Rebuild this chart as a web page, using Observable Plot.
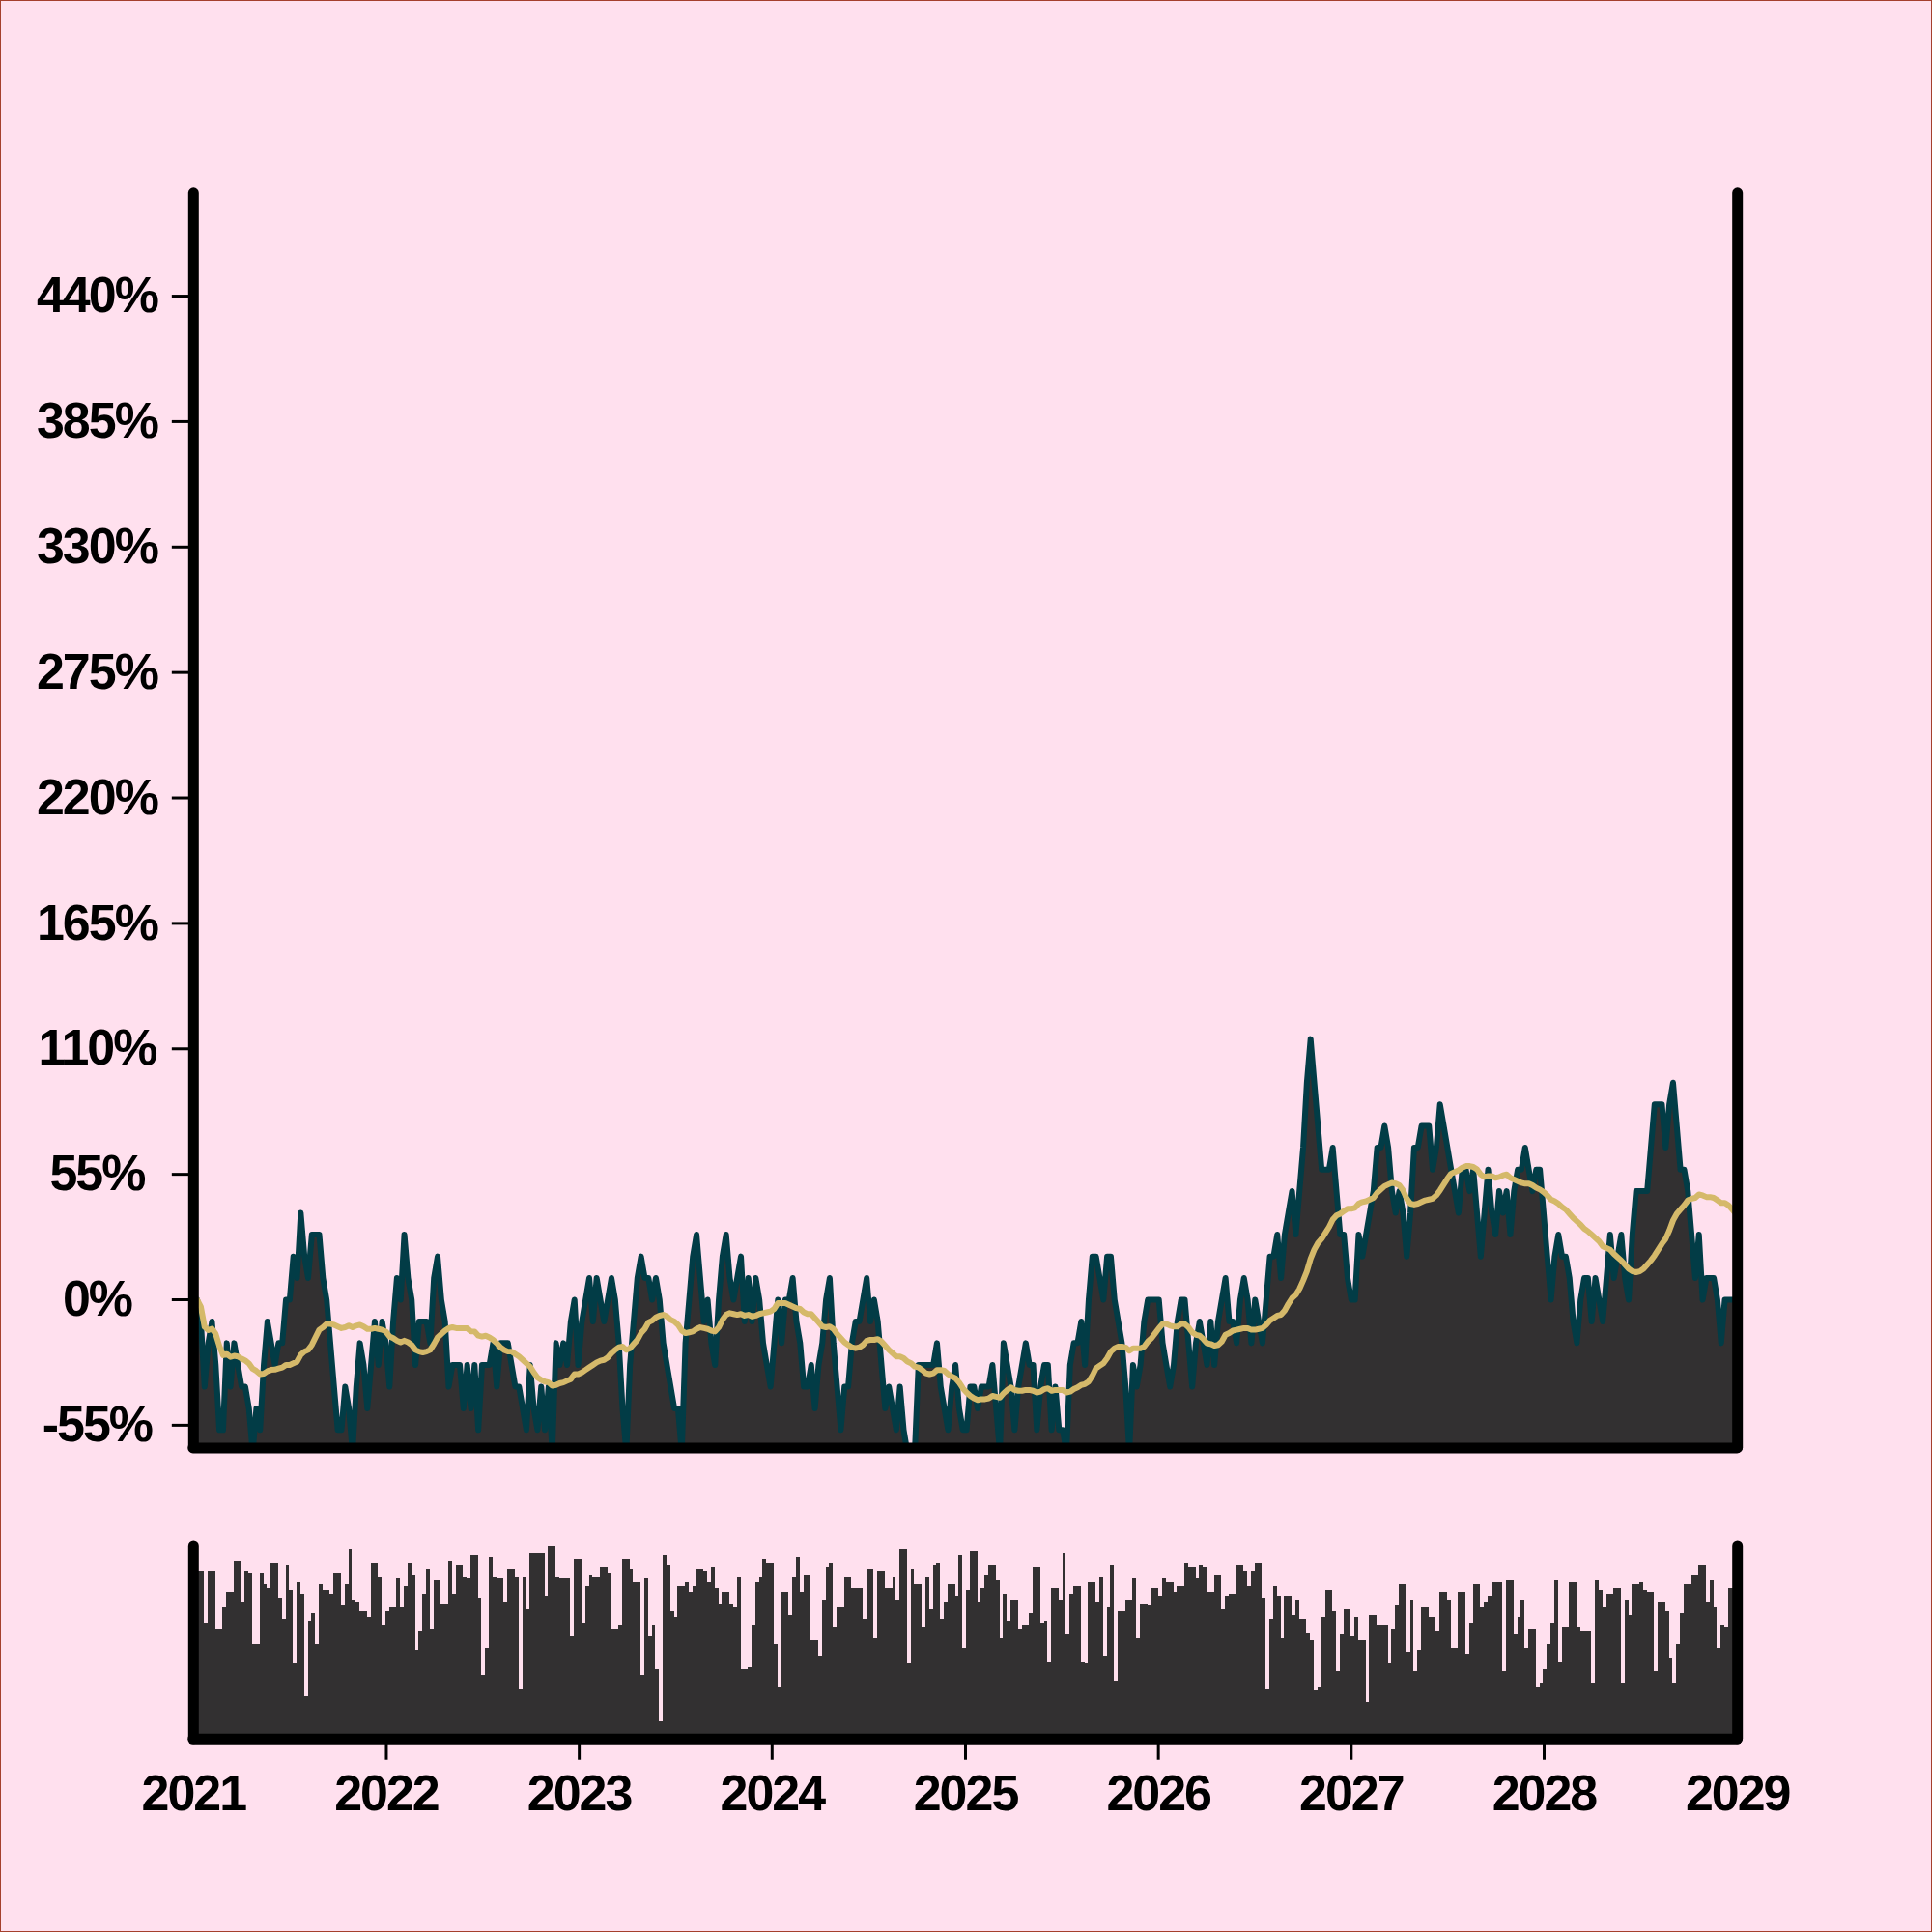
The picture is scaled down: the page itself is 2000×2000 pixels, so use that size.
<!DOCTYPE html>
<html><head><meta charset="utf-8">
<script src="https://cdn.jsdelivr.net/npm/d3@7"></script>
<script src="https://cdn.jsdelivr.net/npm/@observablehq/plot@0.6"></script>
<style>
html, body { margin:0; padding:0; background:#ffe0ee; }
#chart { width:2000px; height:2000px; box-sizing:border-box; border:1px solid #a5402d; background:#ffe0ee; position:relative; overflow:hidden; }
#chart svg { display:block; position:absolute; left:-1px; }
</style></head>
<body><div id="chart"></div>
<script>
// Weekly % change, one array per year
const returns2021 = [0, 0, -9.5, -38.1, -19, -9.5, -28.6, -57.1, -57.1, -19, -38.1, -19, -28.6, -38.1, -38.1, -47.6, -66.7, -47.6, -57.1, -28.6, -9.5, -19, -28.6, -19, -19, 0, 0, 19, 9.5, 38.1, 19, 9.5, 28.6, 28.6, 28.6, 9.5, 0, -19, -38.1, -57.1, -57.1, -38.1, -47.6, -66.7, -38.1, -19, -28.6, -47.6, -28.6, -9.5, -28.6, -9.5, -19];
const returns2022 = [-38.1, -9.5, 9.5, 0, 28.6, 9.5, 0, -28.6, -9.5, -9.5, -9.5, -19, 9.5, 19, 0, -9.5, -38.1, -28.6, -28.6, -28.6, -47.6, -28.6, -47.6, -28.6, -57.1, -28.6, -28.6, -28.6, -19, -38.1, -19, -19, -19, -28.6, -38.1, -38.1, -47.6, -57.1, -28.6, -47.6, -57.1, -38.1, -57.1, -38.1, -66.7, -19, -28.6, -19, -28.6, -9.5, 0, -28.6];
const returns2023 = [-9.5, 0, 9.5, -9.5, 9.5, 0, -9.5, 0, 9.5, 0, -19, -47.6, -66.7, -28.6, -9.5, 9.5, 19, 9.5, 9.5, 0, 9.5, 0, -19, -28.6, -38.1, -47.6, -47.6, -66.7, -19, 0, 19, 28.6, 9.5, -9.5, 0, -19, -28.6, 0, 19, 28.6, 9.5, 0, 9.5, 19, -9.5, 9.5, -9.5, 9.5, 0, -19, -28.6, -38.1];
const returns2024 = [-19, 0, -19, 0, 0, 9.5, -9.5, -19, -38.1, -38.1, -28.6, -47.6, -28.6, -19, 0, 9.5, -19, -38.1, -57.1, -38.1, -38.1, -19, -9.5, -9.5, 0, 9.5, -9.5, 0, -9.5, -28.6, -47.6, -38.1, -47.6, -57.1, -38.1, -57.1, -66.7, -66.7, -66.7, -28.6, -28.6, -28.6, -28.6, -28.6, -19, -38.1, -47.6, -57.1, -38.1, -28.6, -47.6, -57.1];
const returns2025 = [-57.1, -38.1, -38.1, -47.6, -38.1, -38.1, -38.1, -28.6, -47.6, -66.7, -19, -28.6, -38.1, -57.1, -38.1, -28.6, -19, -28.6, -28.6, -57.1, -38.1, -28.6, -28.6, -57.1, -38.1, -57.1, -57.1, -66.7, -28.6, -19, -19, -9.5, -28.6, 0, 19, 19, 9.5, 0, 19, 19, 0, -9.5, -19, -38.1, -66.7, -28.6, -38.1, -28.6, -9.5, 0, 0, 0];
const returns2026 = [0, -19, -28.6, -38.1, -28.6, -9.5, 0, 0, -19, -38.1, -19, -9.5, -19, -28.6, -9.5, -28.6, -9.5, 0, 9.5, -9.5, -9.5, -19, 0, 9.5, 0, -19, 0, -9.5, -19, 0, 19, 19, 28.6, 9.5, 28.6, 38.1, 47.6, 28.6, 47.6, 66.7, 95.2, 114.3, 95.2, 76.2, 57.1, 57.1, 57.1, 66.7, 47.6, 28.6, 28.6, 9.5];
const returns2027 = [0, 0, 28.6, 19, 28.6, 38.1, 47.6, 66.7, 66.7, 76.2, 66.7, 47.6, 38.1, 47.6, 38.1, 19, 38.1, 66.7, 66.7, 76.2, 76.2, 76.2, 57.1, 66.7, 85.7, 76.2, 66.7, 57.1, 47.6, 38.1, 57.1, 57.1, 47.6, 57.1, 38.1, 19, 38.1, 57.1, 38.1, 28.6, 47.6, 38.1, 47.6, 28.6, 47.6, 57.1, 57.1, 66.7, 57.1, 47.6, 57.1, 57.1, 38.1];
const returns2028 = [19, 0, 19, 28.6, 19, 19, 9.5, -9.5, -19, 0, 9.5, 9.5, -9.5, 9.5, 0, -9.5, 9.5, 28.6, 9.5, 19, 28.6, 9.5, 0, 28.6, 47.6, 47.6, 47.6, 47.6, 66.7, 85.7, 85.7, 85.7, 66.7, 85.7, 95.2, 76.2, 57.1, 57.1, 47.6, 28.6, 9.5, 28.6, 0, 9.5, 9.5, 9.5, 0, -19, 0, 0, 0, 0];

// Weekly volume (relative units), one array per year
const volume2021 = [87,87,87,60,87,87,57,57,68,76,76,92,92,71,87,86,49,49,86,80,78,91,91,73,62,90,77,39,81,75,22,61,65,49,80,77,77,75,86,86,69,80,98,72,71,66,66,63,91,91,84,59,66];
const volume2022 = [68,68,83,68,79,91,85,46,56,75,88,57,82,82,70,70,92,75,90,90,84,83,95,95,73,33,47,94,84,83,83,71,88,88,84,26,84,67,96,96,96,96,74,100,100,84,83,83,83,53,93,93];
const volume2023 = [60,79,85,84,84,89,89,86,57,57,59,93,93,88,81,81,33,83,53,59,36,9,95,90,66,63,79,79,81,76,79,88,88,87,81,89,78,70,76,76,70,68,84,36,36,37,59,81,84,93,91,91];
const volume2024 = [49,27,76,76,64,84,94,76,85,85,51,51,43,72,89,91,58,68,68,84,84,78,78,78,62,88,88,52,87,87,78,78,84,72,98,98,39,88,80,80,58,84,67,90,91,62,71,80,80,74,95,47];
const volume2025 = [77,97,97,71,78,85,90,90,82,52,75,61,72,72,57,59,59,65,89,89,60,61,40,78,78,72,96,54,75,79,79,40,39,81,81,71,84,43,68,90,30,66,66,72,72,83,52,70,70,69,78,78];
const volume2026 = [74,83,81,81,76,79,79,91,89,89,83,90,89,76,76,85,85,67,74,75,75,90,90,87,79,87,91,91,73,26,62,79,74,52,74,74,64,72,62,62,55,51,25,27,63,77,77,66,35,54,67,67];
const volume2027 = [53,63,51,51,19,64,64,59,59,59,39,57,69,80,80,45,72,35,46,68,68,63,63,56,76,76,72,47,47,76,76,44,60,80,80,68,71,74,81,81,81,35,82,82,54,63,72,47,57,57,27,29,36];
const volume2028 = [49,60,82,40,58,58,81,81,58,56,56,56,29,82,77,68,75,75,78,78,29,72,64,80,80,81,77,76,76,35,71,71,66,42,29,49,65,80,80,85,85,90,90,71,82,68,47,59,58,78,78,78];

const startDate = "2021-01-01";
const endDate = "2029-01-01";
const yearTicks = [2021, 2022, 2023, 2024, 2025, 2026, 2027, 2028, 2029];
const yTicks = [-55, 0, 55, 110, 165, 220, 275, 330, 385, 440];
const yDomain = [-65, 485];
const maWindow = 26;

const returns = [].concat(returns2021, returns2022, returns2023, returns2024, returns2025, returns2026, returns2027, returns2028);
const volumes = [].concat(volume2021, volume2022, volume2023, volume2024, volume2025, volume2026, volume2027, volume2028);
const t0 = new Date(startDate + "T00:00:00Z");
const data = returns.map((r, i) => {
  const date = d3.utcDay.offset(t0, 7 * i);
  return {date, next: d3.utcDay.offset(date, 7), ret: r, vol: volumes[i]};
});
const xDomain = [t0, new Date(endDate + "T00:00:00Z")];
const yearDates = yearTicks.map(y => new Date(Date.UTC(y, 0, 1)));
const innerYearDates = yearDates.slice(1, -1);

const FILL = "#323031", TEAL = "#023c46", TAN = "#d5b96a";
const fontStyle = {
  fontFamily: "'Liberation Sans', Arial, Helvetica, sans-serif",
  fontSize: "52px", fontWeight: "bold", letterSpacing: "-2px",
  background: "transparent", color: "black", overflow: "visible"
};
const frameW = 11;

const mainChart = Plot.plot({
  width: 2000, height: 1550,
  marginLeft: 200, marginRight: 200, marginTop: 200, marginBottom: 50,
  style: fontStyle,
  x: {type: "utc", domain: xDomain, axis: null},
  y: {domain: yDomain, label: null},
  marks: [
    Plot.areaY(data, {x: "date", y1: () => yDomain[0], y2: "ret", fill: FILL, clip: true}),
    Plot.lineY(data, {x: "date", y: "ret", stroke: TEAL, strokeWidth: 6, clip: true}),
    Plot.lineY(data, Plot.windowY({k: maWindow, anchor: "end", reduce: "mean"}, {x: "date", y: "ret", stroke: TAN, strokeWidth: 6, clip: true})),
    Plot.axisY(yTicks, {label: null, tickSize: 22, tickPadding: 78, textAnchor: "middle", tickFormat: d => d + "%", strokeWidth: 3}),
    Plot.ruleX(xDomain, {stroke: "black", strokeWidth: frameW, strokeLinecap: "round"}),
    Plot.ruleY([yDomain[0]], {stroke: "black", strokeWidth: frameW, strokeLinecap: "round"})
  ]
});
mainChart.style.top = "-1px";

const volumeChart = Plot.plot({
  width: 2000, height: 450,
  marginLeft: 200, marginRight: 200, marginTop: 50, marginBottom: 200,
  style: fontStyle,
  x: {type: "utc", domain: xDomain, label: null},
  y: {domain: [0, 100], axis: null, label: null},
  marks: [
    Plot.rect(data, {x1: "date", x2: "next", y1: () => 0, y2: "vol", fill: FILL, shapeRendering: "crispEdges", clip: true}),
    Plot.axisX(innerYearDates, {label: null, tickSize: 22, tickFormat: () => "", strokeWidth: 3}),
    Plot.axisX(yearDates, {label: null, tickSize: 0, tickPadding: 37, tickFormat: d3.utcFormat("%Y")}),
    Plot.ruleX(xDomain, {stroke: "black", strokeWidth: frameW, strokeLinecap: "round"}),
    Plot.ruleY([0], {stroke: "black", strokeWidth: frameW, strokeLinecap: "round"})
  ]
});
volumeChart.style.top = "1549px";

const chartDiv = document.getElementById("chart");
chartDiv.appendChild(mainChart);
chartDiv.appendChild(volumeChart);
</script></body></html>
